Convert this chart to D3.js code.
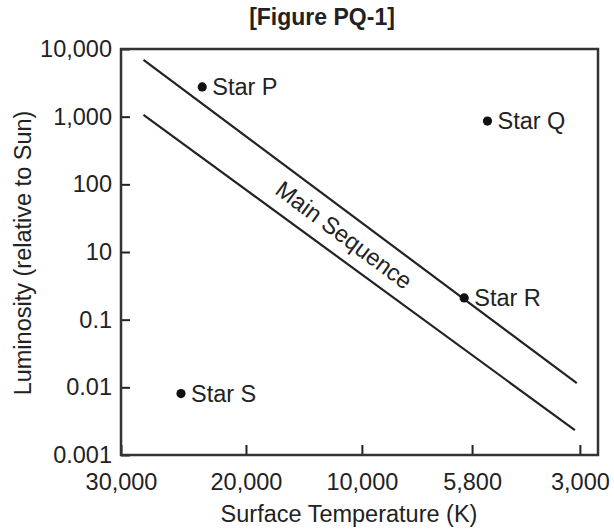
<!DOCTYPE html>
<html>
<head>
<meta charset="utf-8">
<script src="https://cdn.jsdelivr.net/npm/d3@7"></script>
<style>
  html, body { margin: 0; padding: 0; background: #fff; }
  svg { display: block; }
  text { font-family: "Liberation Sans", Arial, Helvetica, sans-serif; fill: #222; }
</style>
</head>
<body>
<svg id="chart" width="614" height="531"></svg>
<script>
// ---- data ----
const chartTitle = "[Figure PQ-1]";
const xTitle = "Surface Temperature (K)";
const yTitle = "Luminosity (relative to Sun)";

const xTickValues = [30000, 20000, 10000, 5800, 3000];
const xTickLabels = ["30,000", "20,000", "10,000", "5,800", "3,000"];
const yTickValues = [10000, 1000, 100, 10, 0.1, 0.01, 0.001];
const yTickLabels = ["10,000", "1,000", "100", "10", "0.1", "0.01", "0.001"];

const starNames = ["Star P", "Star Q", "Star R", "Star S"];
const starTemps = [23500, 5400, 6100, 25200];
const starLums  = [2750, 860, 0.44, 0.0081];

const bandLabel = "Main Sequence";
const upperLineTemps = [28200, 3080];
const upperLineLums  = [6900, 0.0115];
const lowerLineTemps = [28200, 3130];
const lowerLineLums  = [1060, 0.00233];

// ---- layout ----
const W = 614, H = 531;
const margin = { top: 49, right: 16, bottom: 76, left: 121 };
const w = W - margin.left - margin.right;
const h = H - margin.top - margin.bottom;
const xFrac = [0, 0.262, 0.505, 0.736, 0.962];
const fs = 23.5;

const svg = d3.select("#chart");
const g = svg.append("g").attr("transform", `translate(${margin.left},${margin.top})`);

// piecewise scales matching the figure's uneven axes
const x = d3.scaleLinear().domain(xTickValues).range(xFrac.map(f => f * w));
const n = yTickValues.length - 1;
const yPos = v => h * yTickValues.indexOf(v) / n;
const y = d3.scaleLog()
  .domain([0.001, 0.1, 10, 10000])
  .range([yPos(0.001), yPos(0.1), yPos(10), yPos(10000)]);

// axes
const xAxis = d3.axisBottom(x)
  .tickValues(xTickValues)
  .tickFormat((d, i) => xTickLabels[i])
  .tickSizeInner(-10).tickSizeOuter(0).tickPadding(18);
const yAxis = d3.axisLeft(y)
  .tickValues(yTickValues)
  .tickFormat((d, i) => yTickLabels[i])
  .tickSizeInner(-9).tickSizeOuter(0).tickPadding(9);

const gx = g.append("g").attr("transform", `translate(0,${h})`).call(xAxis);
const gy = g.append("g").call(yAxis);
[gx, gy].forEach(a => {
  a.select(".domain").remove();
  a.selectAll(".tick line").attr("stroke", "#222").attr("stroke-width", 2);
  a.selectAll(".tick text").style("font-size", fs + "px").attr("fill", "#222");
});

// frame
g.append("rect").attr("x", 0).attr("y", 0).attr("width", w).attr("height", h)
  .attr("fill", "none").attr("stroke", "#333").attr("stroke-width", 2.5);

// main sequence lines
const line = d3.line().x(d => x(d[0])).y(d => y(d[1]));
[[upperLineTemps, upperLineLums], [lowerLineTemps, lowerLineLums]].forEach(([ts, ls]) => {
  g.append("path").datum(ts.map((t, i) => [t, ls[i]]))
    .attr("d", line).attr("fill", "none")
    .attr("stroke", "#222").attr("stroke-width", 2.2);
});

// band label, rotated along the lines
const ux0 = x(upperLineTemps[0]), uy0 = y(upperLineLums[0]);
const ux1 = x(upperLineTemps[1]), uy1 = y(upperLineLums[1]);
const ang = Math.atan2(uy1 - uy0, ux1 - ux0) * 180 / Math.PI;
const tX = 344 - margin.left, tY = 235 - margin.top;
g.append("text")
  .attr("transform", `translate(${tX},${tY}) rotate(${ang})`)
  .attr("text-anchor", "middle").attr("dy", "0.35em")
  .style("font-size", fs + "px")
  .text(bandLabel);

// stars
const stars = starNames.map((s, i) => ({ name: s, t: starTemps[i], l: starLums[i] }));
const sg = g.selectAll(".star").data(stars).join("g").attr("class", "star")
  .attr("transform", d => `translate(${x(d.t)},${y(d.l)})`);
sg.append("circle").attr("r", 4.6).attr("fill", "#111");
sg.append("text").attr("x", 10).attr("dy", "0.35em")
  .style("font-size", fs + "px").text(d => d.name);

// titles
svg.append("text").attr("x", 322).attr("y", 25)
  .attr("text-anchor", "middle").style("font-size", "23px").style("font-weight", "bold")
  .text(chartTitle);
svg.append("text").attr("x", 349).attr("y", 522)
  .attr("text-anchor", "middle").style("font-size", fs + "px")
  .text(xTitle);
svg.append("text").attr("transform", `translate(31,${253}) rotate(-90)`)
  .attr("text-anchor", "middle").style("font-size", fs + "px")
  .text(yTitle);
</script>
</body>
</html>
